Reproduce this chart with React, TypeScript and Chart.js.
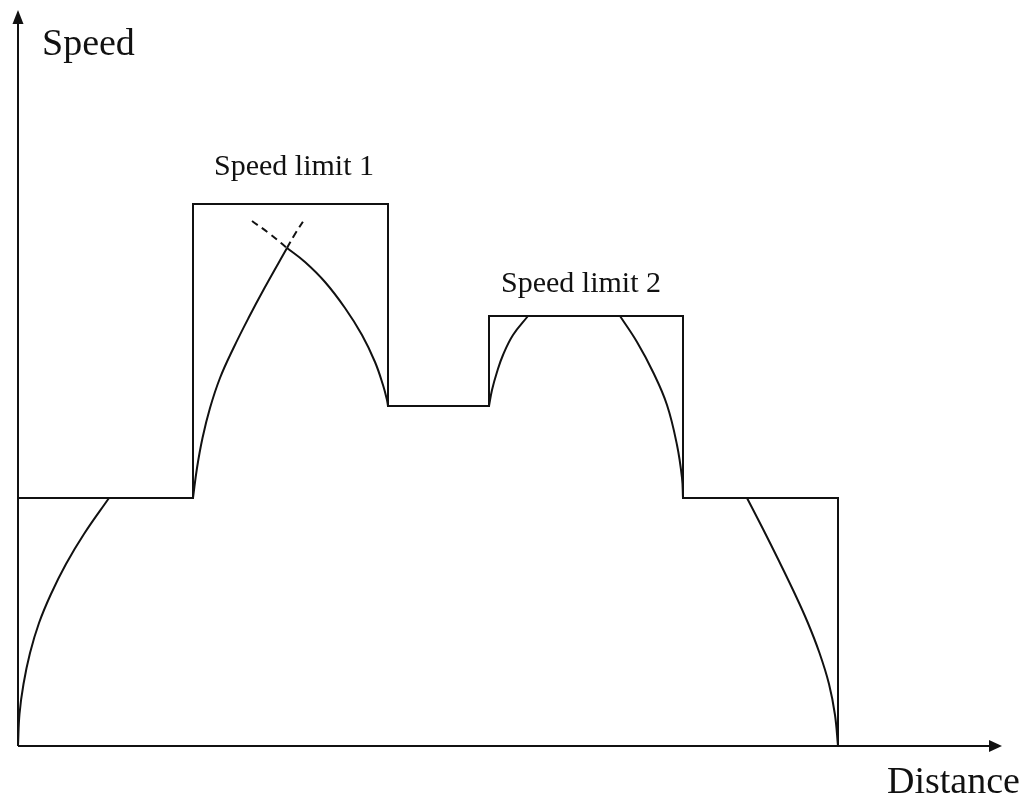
import React, { useEffect, useRef } from "react";
import { Chart, registerables } from "chart.js";

Chart.register(...registerables);

// Speed limit profile (distance, speed) in arbitrary units
const limitDist = [0, 17.5, 17.5, 37.0, 37.0, 47.1, 47.1, 66.5, 66.5, 82.0, 82.0];
const limitSpeed = [24.8, 24.8, 54.2, 54.2, 34.0, 34.0, 43.0, 43.0, 24.8, 24.8, 0];

// Acceleration from standstill
const accel1Dist = [0, 0.15, 0.55, 1.2, 2.1, 3.3, 4.8, 6.6, 9.1];
const accel1Speed = [0, 3.2, 6.2, 9.3, 12.3, 15.2, 18.2, 21.2, 24.8];

// Acceleration in speed limit 1 zone
const accel2Dist = [17.5, 17.9, 18.45, 19.2, 20.2, 21.55, 23.05, 24.65, 26.9];
const accel2Speed = [24.8, 27.8, 30.8, 33.8, 36.8, 39.8, 42.8, 45.8, 49.8];
const accel2DashDist = [26.9, 27.7, 28.6];
const accel2DashSpeed = [49.8, 51.2, 52.6];

// Braking in speed limit 1 zone
const brake1DashDist = [23.4, 25.2, 26.9];
const brake1DashSpeed = [52.5, 51.2, 49.8];
const brake1Dist = [26.9, 28.7, 30.7, 32.7, 34.4, 35.7, 36.5, 36.9, 37.0];
const brake1Speed = [49.8, 48.4, 46.4, 43.8, 41.1, 38.4, 36.1, 34.6, 34.0];

// Acceleration in speed limit 2 zone
const accel3Dist = [47.1, 47.4, 47.9, 48.5, 49.5, 51.0];
const accel3Speed = [34.0, 35.6, 37.4, 39.1, 41.1, 43.0];

// Braking in speed limit 2 zone
const brake2Dist = [60.2, 61.9, 63.5, 64.9, 65.9, 66.4, 66.5];
const brake2Speed = [43.0, 40.4, 37.4, 34.1, 30.1, 26.8, 24.8];

// Final braking to stop
const brake3Dist = [72.9, 74.5, 76.05, 77.55, 78.95, 80.15, 81.1, 81.7, 82.0];
const brake3Speed = [24.8, 21.7, 18.6, 15.5, 12.4, 9.3, 6.2, 3.1, 0];

const X_MAX = 98.4;
const Y_MAX = 73.6;

const pts = (xs: number[], ys: number[]) => xs.map((x, i) => ({ x, y: ys[i] }));

const INK = "#111111";

const curve = (xs: number[], ys: number[], dashed = false) => ({
  data: pts(xs, ys),
  borderColor: INK,
  borderWidth: 2,
  pointRadius: 0,
  fill: false,
  tension: 0.4,
  borderDash: dashed ? [7, 5] : [],
});

const SERIF = '"Liberation Serif", "Times New Roman", serif';

const axesPlugin = {
  id: "axesArrows",
  afterDatasetsDraw(chart: any) {
    const { ctx, scales } = chart;
    const xs = scales.x;
    const ys = scales.y;
    const x0 = xs.getPixelForValue(0);
    const y0 = ys.getPixelForValue(0);
    const xEnd = xs.getPixelForValue(X_MAX);
    const yEnd = ys.getPixelForValue(Y_MAX);
    ctx.save();
    ctx.strokeStyle = INK;
    ctx.fillStyle = INK;
    ctx.lineWidth = 2;
    ctx.beginPath();
    ctx.moveTo(x0, y0);
    ctx.lineTo(xEnd - 8, y0);
    ctx.moveTo(x0, y0);
    ctx.lineTo(x0, yEnd + 8);
    ctx.stroke();
    // arrow heads
    ctx.beginPath();
    ctx.moveTo(xEnd, y0);
    ctx.lineTo(xEnd - 13, y0 - 6);
    ctx.lineTo(xEnd - 13, y0 + 6);
    ctx.closePath();
    ctx.fill();
    ctx.beginPath();
    ctx.moveTo(x0, yEnd);
    ctx.lineTo(x0 - 5.5, yEnd + 14);
    ctx.lineTo(x0 + 5.5, yEnd + 14);
    ctx.closePath();
    ctx.fill();
    ctx.restore();
  },
};

const textLabels = [
  { text: "Speed", x: 2.4, y: 69.1, size: 38, align: "left" },
  { text: "Distance", x: 86.9, y: -4.7, size: 38, align: "left" },
  { text: "Speed limit 1", x: 27.6, y: 57.1, size: 30, align: "center" },
  { text: "Speed limit 2", x: 56.3, y: 45.4, size: 30, align: "center" },
];

const labelsPlugin = {
  id: "textLabels",
  afterDraw(chart: any) {
    const { ctx, scales } = chart;
    ctx.save();
    ctx.fillStyle = INK;
    ctx.textBaseline = "alphabetic";
    for (const l of textLabels) {
      ctx.font = `${l.size}px ${SERIF}`;
      ctx.textAlign = l.align;
      ctx.fillText(l.text, scales.x.getPixelForValue(l.x), scales.y.getPixelForValue(l.y));
    }
    ctx.restore();
  },
};

export default function App() {
  const ref = useRef<HTMLCanvasElement>(null);
  useEffect(() => {
    if (!ref.current) return;
    const chart = new Chart(ref.current, {
      type: "line",
      data: {
        datasets: [
          {
            data: pts(limitDist, limitSpeed),
            borderColor: INK,
            borderWidth: 2,
            pointRadius: 0,
            fill: false,
            tension: 0,
          },
          curve(accel1Dist, accel1Speed),
          curve(accel2Dist, accel2Speed),
          curve(accel2DashDist, accel2DashSpeed, true),
          curve(brake1DashDist, brake1DashSpeed, true),
          curve(brake1Dist, brake1Speed),
          curve(accel3Dist, accel3Speed),
          curve(brake2Dist, brake2Speed),
          curve(brake3Dist, brake3Speed),
        ] as any,
      },
      options: {
        responsive: false,
        maintainAspectRatio: false,
        animation: false,
        layout: { padding: { left: 18, top: 10, right: 22, bottom: 64 } },
        scales: {
          x: { type: "linear", min: 0, max: X_MAX, display: false },
          y: { type: "linear", min: 0, max: Y_MAX, display: false },
        },
        plugins: {
          legend: { display: false },
          tooltip: { enabled: false },
        },
      },
      plugins: [axesPlugin, labelsPlugin],
    } as any);
    return () => chart.destroy();
  }, []);
  return (
    <div style={{ position: "absolute", left: 0, top: 0, width: 1024, height: 810, background: "#fff" }}>
      <canvas ref={ref} width={1024} height={810} style={{ display: "block" }} />
    </div>
  );
}
